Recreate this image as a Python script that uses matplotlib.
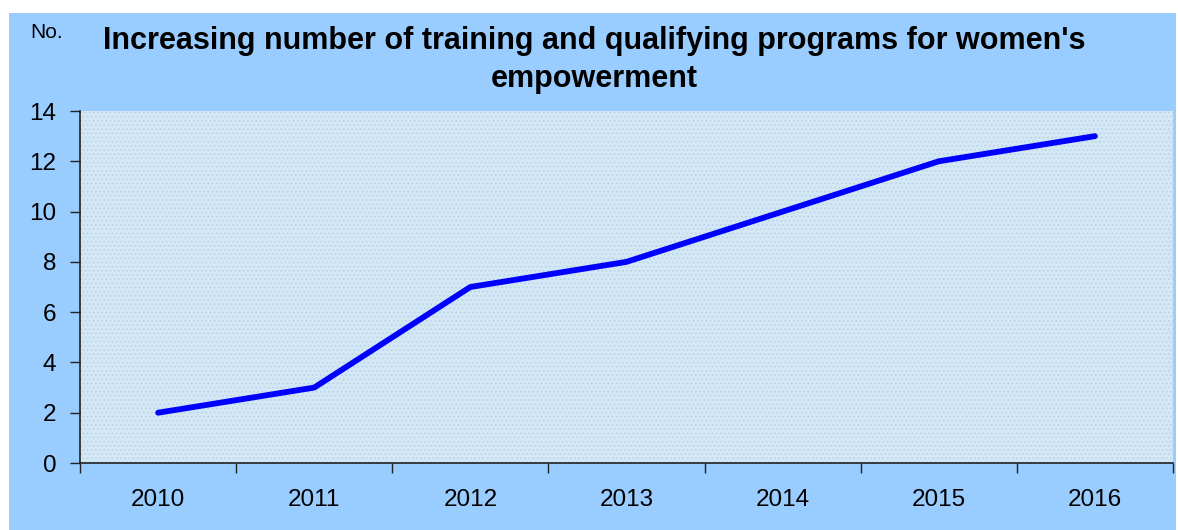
import numpy as np
import matplotlib.pyplot as plt
from matplotlib.patches import Rectangle

years = ['2010', '2011', '2012', '2013', '2014', '2015', '2016']
programs = [2, 3, 7, 8, 10, 12, 13]
yticks = [0, 2, 4, 6, 8, 10, 12, 14]

plt.rcParams['font.family'] = ['Liberation Sans', 'DejaVu Sans']
plt.rcParams['hatch.color'] = '#B5D2EA'
plt.rcParams['hatch.linewidth'] = 0.6

W, H = 1178, 530
fig = plt.figure(figsize=(W / 100, H / 100), dpi=100)
fig.patch.set_facecolor('white')

# blue chart area with a thin white margin on top/left
fig.patches.append(Rectangle((9 / W, 0), (1176 - 9) / W, (H - 13) / H,
                             transform=fig.transFigure, facecolor='#99CCFF',
                             edgecolor='none', zorder=-5))

ax = fig.add_axes([80 / W, (H - 463) / H, (1173 - 80) / W, (463 - 111) / H])
ax.set_facecolor('#D3E7F5')
ax.add_patch(Rectangle((0, 0), 1, 1, transform=ax.transAxes, facecolor='none',
                       edgecolor='#B5D2EA', hatch='....', linewidth=0, zorder=0))

x = np.arange(len(years))
ax.plot(x, programs, color='#0000FF', linewidth=4.2, solid_capstyle='round',
        solid_joinstyle='round', zorder=3)

ax.set_xlim(-0.5, len(years) - 0.5)
ax.set_ylim(0, 14)
ax.set_yticks(yticks)
ax.set_yticklabels([str(v) for v in yticks], fontsize=17.5)

# category labels centred, ticks between categories
ax.set_xticks(np.arange(-0.5, len(years)), minor=False)
ax.set_xticklabels([])
ax.set_xticks(x, minor=True)
ax.set_xticklabels(years, minor=True, fontsize=17.5)
ax.tick_params(axis='x', which='minor', length=0, pad=19)
ax.tick_params(axis='x', which='major', length=7, width=1, color='#222222')
ax.tick_params(axis='y', length=7, width=1, color='#222222', pad=10)

for s in ['top', 'right']:
    ax.spines[s].set_visible(False)
for s in ['left', 'bottom']:
    ax.spines[s].set_color('#222222')
    ax.spines[s].set_linewidth(1.2)

fig.text(594 / W, 1 - 60 / H,
         "Increasing number of training and qualifying programs for women's\nempowerment",
         ha='center', va='center', fontsize=22, fontweight='bold', linespacing=1.35)
fig.text(30 / W, 1 - 32 / H, 'No.', ha='left', va='center', fontsize=15)

fig.savefig('out.png', dpi=100, facecolor=fig.get_facecolor())
